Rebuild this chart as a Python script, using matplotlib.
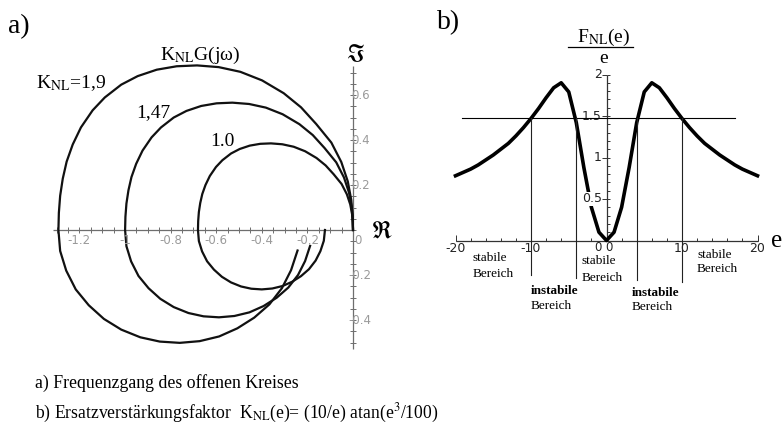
import numpy as np
import matplotlib
matplotlib.use("Agg")
import matplotlib.pyplot as plt
from matplotlib import markers

plt.rcParams['font.family'] = ['Liberation Serif', 'DejaVu Serif']
plt.rcParams['mathtext.fontset'] = 'stix'

W, H, DPI = 783, 426, 100

# Open-loop frequency response G(jw), ordered from low to high frequency
g_re = [-0.123, -0.128, -0.143, -0.164, -0.193, -0.228, -0.267, -0.309, -0.354, -0.400,
        -0.446, -0.491, -0.535, -0.575, -0.610, -0.640, -0.662, -0.676, -0.680, -0.679,
        -0.676, -0.670, -0.661, -0.647, -0.628, -0.601, -0.573, -0.535, -0.497, -0.453,
        -0.407, -0.360, -0.310, -0.260, -0.210, -0.160, -0.120, -0.085, -0.050, -0.027,
        -0.012, -0.004, -0.001, 0.000]
g_im = [0.000, -0.048, -0.094, -0.136, -0.174, -0.205, -0.230, -0.249, -0.260, -0.264,
        -0.261, -0.251, -0.233, -0.208, -0.176, -0.139, -0.095, -0.049, 0.000, 0.040,
        0.080, 0.120, 0.160, 0.200, 0.240, 0.280, 0.310, 0.340, 0.360, 0.375,
        0.383, 0.385, 0.381, 0.370, 0.350, 0.320, 0.287, 0.248, 0.2045, 0.159,
        0.1135, 0.070, 0.035, 0.000]

# Equivalent gains K_NL and the first frequency point drawn for each
gains = [1.0, 1.47, 1.9]
first_point = [0, 1, 1]

nyq_xticks = [-1.2, -1.0, -0.8, -0.6, -0.4, -0.2, 0.0]
nyq_xticklabels = ['-1.2', '-1', '-0.8', '-0.6', '-0.4', '-0.2', '0']
nyq_yticks = [0.6, 0.4, 0.2, -0.2, -0.4]
nyq_yticklabels = ['0.6', '0.4', '0.2', '-0.2', '-0.4']

# Describing function K_NL(e) = F_NL(e)/e
e_vals = [-20, -19, -18, -17, -16, -15, -14, -13, -12, -11, -10, -9, -8, -7, -6, -5, -4, -3, -2, -1,
          0, 1, 2, 3, 4, 5, 6, 7, 8, 9, 10, 11, 12, 13, 14, 15, 16, 17, 18, 19, 20]
knl_vals = [0.78, 0.82, 0.86, 0.91, 0.97, 1.03, 1.10, 1.17, 1.26, 1.36, 1.47, 1.59, 1.72, 1.84, 1.90,
            1.79, 1.42, 0.88, 0.40, 0.10,
            0.00,
            0.10, 0.40, 0.88, 1.42, 1.79, 1.90, 1.84, 1.72, 1.59, 1.47, 1.36, 1.26, 1.17, 1.10,
            1.03, 0.97, 0.91, 0.86, 0.82, 0.78]
knl_level = 1.47
crossings = [-10.0, -4.1, 4.1, 10.0]
crossing_bottoms = [-0.42, -0.45, -0.48, -0.50]

df_xticks = [-20, -10, 10, 20]
df_xticklabels = ['-20', '-10', '10', '20']
df_yticks = [0.5, 1.0, 1.5, 2.0]
df_yticklabels = ['0.5', '1', '1.5', '2']

fig = plt.figure(figsize=(W / DPI, H / DPI), dpi=DPI)
fig.patch.set_facecolor('white')


def px_axes(left, top, right, bottom):
    return fig.add_axes([left / W, 1 - bottom / H, (right - left) / W, (bottom - top) / H])


def ftext(x, y, s, **kw):
    return fig.text(x / W, 1 - y / H, s, **kw)


# ---------------- a) Nyquist diagram ----------------
ox, oy, sx, sy = 353.0, 230.0, 228.0, 225.0
a_l, a_t, a_r, a_b = 20, 30, 400, 365
axa = px_axes(a_l, a_t, a_r, a_b)
axa.set_xlim((a_l - ox) / sx, (a_r - ox) / sx)
axa.set_ylim((oy - a_b) / sy, (oy - a_t) / sy)
axa.set_axis_off()

axis_grey = '#6e6e6e'
label_grey = '#9a9a9a'
axa.plot([-1.316, 0], [0, 0], color=axis_grey, lw=0.9, solid_capstyle='butt')
axa.plot([0, 0], [-0.53, 0.73], color=axis_grey, lw=0.9, solid_capstyle='butt')
xt = np.arange(-1.30, 0.001, 0.05)
axa.plot(xt, np.zeros_like(xt), ls='none', marker='|', ms=4, mew=0.7, color=axis_grey)
yt = np.arange(-0.50, 0.7001, 0.05)
axa.plot(np.zeros_like(yt), yt, ls='none', marker='_', ms=4, mew=0.7, color=axis_grey)

for v, lab in zip(nyq_xticks, nyq_xticklabels):
    dx = 3.5 if v == 0 else 0
    axa.annotate(lab, (v, 0), xytext=(dx, -7.5), textcoords='offset points', ha='center',
                 va='center', fontsize=8.5, color=label_grey, family='DejaVu Sans')
for v, lab in zip(nyq_yticks, nyq_yticklabels):
    dx = -3.5 if lab.startswith('-') else -1.5
    axa.annotate(lab, (0, v), xytext=(dx, 0), textcoords='offset points', ha='left',
                 va='center', fontsize=8.5, color=label_grey, family='DejaVu Sans')

re = np.array(g_re)
im = np.array(g_im)
for k, i0 in zip(gains, first_point):
    axa.plot(k * re[i0:], k * im[i0:], color='#111111', lw=1.6, solid_joinstyle='round')

ftext(8, 33, 'a)', fontsize=20, va='baseline')
ftext(160, 60, r'K$_{\mathrm{NL}}$G(jω)', fontsize=14, va='baseline')
ftext(36, 88, r'K$_{\mathrm{NL}}$=1,9', fontsize=14, va='baseline')
ftext(136, 117, '1,47', fontsize=14, va='baseline')
ftext(210, 146, '1.0', fontsize=14, va='baseline')
ftext(355, 55, r'$\Im$', fontsize=17, ha='center', va='center')
ftext(382, 232, r'$\Re$', fontsize=17, ha='center', va='center')

# ---------------- b) describing function ----------------
bx, by, bsx, bsy = 606.5, 240.5, 7.55, 83.0
b_l, b_t, b_r, b_b = 440, 20, 783, 330
axb = px_axes(b_l, b_t, b_r, b_b)
axb.set_xlim((b_l - bx) / bsx, (b_r - bx) / bsx)
axb.set_ylim((by - b_b) / bsy, (by - b_t) / bsy)
axb.set_axis_off()

axb.plot([-20, 20], [0, 0], color='#333333', lw=0.9, solid_capstyle='butt', zorder=2)
axb.plot([0, 0], [0, 2], color='#333333', lw=0.9, solid_capstyle='butt', zorder=2)
ext = np.arange(-20, 20.1, 2)
axb.plot(ext, np.zeros_like(ext), ls='none', marker=markers.TICKUP, ms=2.5, mew=0.7,
         color='#333333')
axb.plot([-20, -10, 0, 10, 20], np.zeros(5), ls='none', marker=markers.TICKUP, ms=4, mew=0.7,
         color='#333333')
eyt = np.arange(0.1, 2.001, 0.1)
axb.plot(np.zeros_like(eyt), eyt, ls='none', marker=markers.TICKRIGHT, ms=2.2, mew=0.7,
         color='#333333')
axb.plot(np.zeros(len(df_yticks)), df_yticks, ls='none', marker=markers.TICKLEFT, ms=3.5,
         mew=0.7, color='#333333')

axb.plot(e_vals, knl_vals, color='black', lw=2.6, solid_joinstyle='round', zorder=3)

tick_kw = dict(textcoords='offset points', va='center', fontsize=9, color='#222222',
               family='DejaVu Sans', zorder=5)
for v, lab in zip(df_xticks, df_xticklabels):
    axb.annotate(lab, (v, 0), xytext=(0, -6.0), ha='center', **tick_kw)
# zero labels of both axes sit side by side below the origin
axb.annotate('0', (0, 0), xytext=(-3.2, -5.2), ha='right', fontsize=8.5,
             **{k: v for k, v in tick_kw.items() if k != 'fontsize'})
axb.annotate('0', (0, 0), xytext=(-1.2, -5.2), ha='left', fontsize=8.5,
             **{k: v for k, v in tick_kw.items() if k != 'fontsize'})
for v, lab in zip(df_yticks, df_yticklabels):
    axb.annotate(lab, (0, v), xytext=(-3.5, 0), ha='right',
                 bbox=dict(boxstyle='square,pad=0.05', fc='white', ec='none'), **tick_kw)

axb.plot([-19.1, 17.0], [knl_level, knl_level], color='black', lw=0.8, zorder=6)
for c, b in zip(crossings, crossing_bottoms):
    axb.plot([c, c], [knl_level, b], color='#222222', lw=0.8, zorder=6, clip_on=False)

ftext(437, 29, 'b)', fontsize=20, va='baseline')
ftext(577, 42, r'F$_{\mathrm{NL}}$(e)', fontsize=14, va='baseline')
fig.add_artist(plt.Line2D([568 / W, 633 / W], [1 - 47 / H, 1 - 47 / H], color='black', lw=0.9))
ftext(604, 63, 'e', fontsize=14, ha='center', va='baseline')
ftext(777, 247, 'e', fontsize=18, ha='center', va='baseline')

region_font = 9.5
ftext(473, 261, 'stabile', fontsize=region_font, va='baseline')
ftext(473, 277, 'Bereich', fontsize=region_font, va='baseline')
ftext(582, 264, 'stabile', fontsize=region_font, va='baseline')
ftext(582, 281, 'Bereich', fontsize=region_font, va='baseline')
ftext(697, 258, 'stabile', fontsize=region_font, va='baseline')
ftext(697, 272, 'Bereich', fontsize=region_font, va='baseline')
ftext(531, 294, 'instabile', fontsize=region_font, fontweight='bold', va='baseline')
ftext(531, 309, 'Bereich', fontsize=region_font, va='baseline')
ftext(632, 296, 'instabile', fontsize=region_font, fontweight='bold', va='baseline')
ftext(632, 310, 'Bereich', fontsize=region_font, va='baseline')

# ---------------- captions ----------------
ftext(35, 388, 'a) Frequenzgang des offenen Kreises', fontsize=12.8, va='baseline')
ftext(35, 418, r'b) Ersatzverstärkungsfaktor  K$_{\mathrm{NL}}$(e)= (10/e) atan(e$^{3}$/100)',
      fontsize=12.7, va='baseline')

fig.savefig('out.png', dpi=DPI, facecolor='white')
